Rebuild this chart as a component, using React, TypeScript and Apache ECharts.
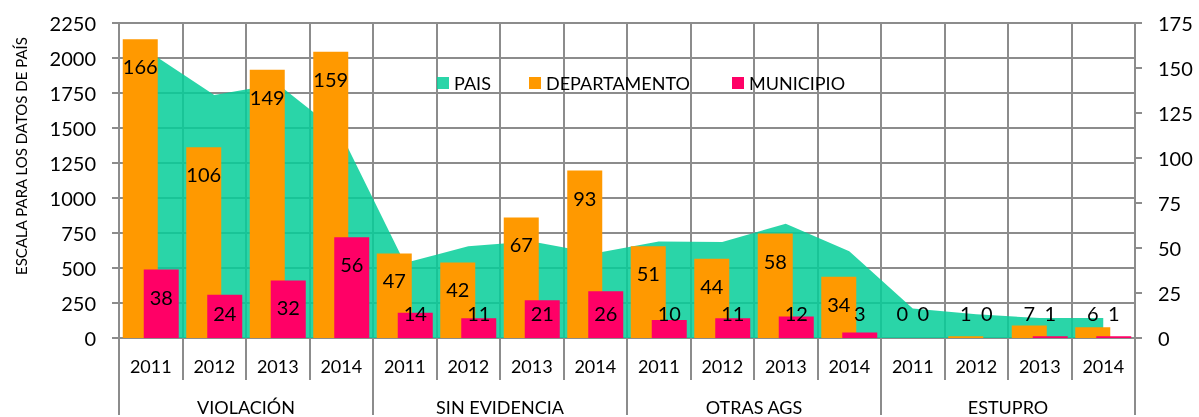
import React, { useEffect, useRef } from 'react';
import * as echarts from 'echarts';

const groups = ['VIOLACIÓN', 'SIN EVIDENCIA', 'OTRAS AGS', 'ESTUPRO'];
const years = ['2011', '2012', '2013', '2014'];
const categories = groups.flatMap((g) => years.map((y) => `${g}|${y}`));

const pais = [2035, 1735, 1815, 1455, 535, 655, 690, 605, 690, 685, 816, 620, 210, 170, 142, 142];
const departamento = [166, 106, 149, 159, 47, 42, 67, 93, 51, 44, 58, 34, 0, 1, 7, 6];
const municipio = [38, 24, 32, 56, 14, 11, 21, 26, 10, 11, 12, 3, 0, 0, 1, 1];

const leftAxis = { min: 0, max: 2250, interval: 250 };
const rightAxis = { min: 0, max: 175, interval: 25 };

const FONT = 'Lato';
const GRID_COLOR = '#8c8c8c';
const TEAL = 'rgba(5,206,153,0.85)';
const ORANGE = '#FF9900';
const PINK = '#FF0066';

function barData(values: number[]) {
  return values.map((v) => ({
    value: v,
    label:
      v >= 30
        ? { position: 'insideTop', distance: 17 }
        : { position: 'insideBottom', distance: 15 },
  }));
}

export default function App() {
  const ref = useRef<HTMLDivElement>(null);

  useEffect(() => {
    if (!ref.current) return;
    const chart = echarts.init(ref.current, null, { renderer: 'svg' });
    const lineStyle = { color: GRID_COLOR, width: 2 };
    const barLabel = {
      show: true,
      color: '#000',
      fontFamily: FONT,
      fontSize: 20,
      lineHeight: 20,
    };
    chart.setOption({
      animation: false,
      textStyle: { fontFamily: FONT },
      grid: { left: 119, right: 64, top: 23, bottom: 77, containLabel: false },
      legend: [
        { data: ['PAIS'], left: 437 },
        { data: ['DEPARTAMENTO'], left: 529 },
        { data: ['MUNICIPIO'], left: 732 },
      ].map((l) => ({
        ...l,
        top: 73,
        icon: 'rect',
        itemWidth: 12,
        itemHeight: 12,
        itemGap: 0,
        padding: 0,
        textStyle: { fontFamily: FONT, fontSize: 18, lineHeight: 20, color: '#000', padding: [0, 0, 0, 0] },
      })),
      graphic: [
        {
          type: 'text',
          x: 21,
          y: 156,
          rotation: Math.PI / 2,
          style: {
            text: 'ESCALA PARA LOS DATOS DE PAÍS',
            fontFamily: FONT,
            fontSize: 15,
            fill: '#000',
            align: 'center',
            verticalAlign: 'middle',
          },
        },
      ],
      xAxis: [
        {
          type: 'category',
          data: categories,
          position: 'bottom',
          boundaryGap: true,
          axisLine: { show: true, lineStyle },
          axisTick: { show: true, interval: 0, length: 42, lineStyle },
          splitLine: { show: true, interval: 0, lineStyle },
          axisLabel: {
            interval: 0,
            margin: 18,
            fontFamily: FONT,
            fontSize: 18,
            lineHeight: 20,
            color: '#000',
            formatter: (v: string) => v.split('|')[1],
          },
        },
        {
          type: 'category',
          data: groups,
          position: 'bottom',
          boundaryGap: true,
          axisLine: { show: false },
          axisTick: { show: true, interval: 0, length: 77, lineStyle },
          splitLine: { show: false },
          axisLabel: {
            interval: 0,
            margin: 59,
            fontFamily: FONT,
            fontSize: 18,
            lineHeight: 20,
            color: '#000',
          },
        },
      ],
      yAxis: [
        {
          type: 'value',
          position: 'left',
          ...leftAxis,
          axisLine: { show: true, lineStyle },
          axisTick: { show: true, length: 7, lineStyle },
          splitLine: { show: true, lineStyle },
          axisLabel: {
            margin: 23,
            fontFamily: FONT,
            fontSize: 20,
            color: '#000',
            formatter: (v: number) => String(v),
          },
        },
        {
          type: 'value',
          position: 'right',
          ...rightAxis,
          axisLine: { show: true, lineStyle },
          axisTick: { show: true, length: 7, lineStyle },
          splitLine: { show: false },
          axisLabel: {
            margin: 23,
            fontFamily: FONT,
            fontSize: 20,
            color: '#000',
            formatter: (v: number) => String(v),
          },
        },
      ],
      series: [
        {
          name: 'PAIS',
          type: 'line',
          xAxisIndex: 0,
          yAxisIndex: 0,
          data: pais,
          symbol: 'none',
          lineStyle: { width: 0, color: TEAL },
          itemStyle: { color: TEAL },
          areaStyle: { color: TEAL, opacity: 1 },
          z: 1,
        },
        {
          name: 'DEPARTAMENTO',
          type: 'bar',
          xAxisIndex: 0,
          yAxisIndex: 1,
          data: barData(departamento),
          barWidth: 35,
          barGap: '-40%',
          itemStyle: { color: ORANGE },
          label: barLabel,
          z: 3,
        },
        {
          name: 'MUNICIPIO',
          type: 'bar',
          xAxisIndex: 0,
          yAxisIndex: 1,
          data: barData(municipio),
          barWidth: 35,
          barGap: '-40%',
          itemStyle: { color: PINK },
          label: barLabel,
          z: 4,
        },
      ],
    });
    return () => chart.dispose();
  }, []);

  return (
    <div
      ref={ref}
      style={{ position: 'fixed', left: 0, top: 0, width: 1199, height: 417 }}
    />
  );
}
